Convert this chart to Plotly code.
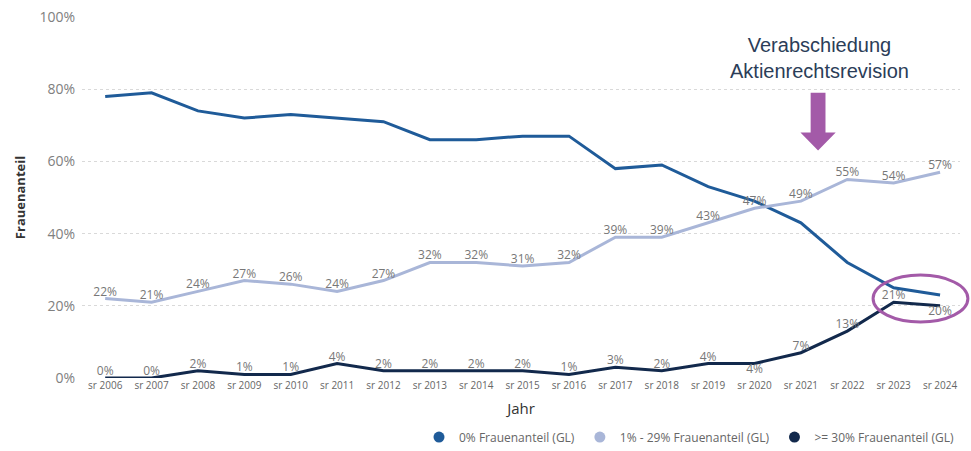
import plotly.graph_objects as go

years = list(range(2006, 2025))
year_labels = [f"sr {y}" for y in years]
s_zero = [78, 79, 74, 72, 73, 72, 71, 66, 66, 67, 67, 58, 59, 53, 49, 43, 32, 25, 23]
s_low = [22, 21, 24, 27, 26, 24, 27, 32, 32, 31, 32, 39, 39, 43, 47, 49, 55, 54, 57]
s_high = [0, 0, 2, 1, 1, 4, 2, 2, 2, 2, 1, 3, 2, 4, 4, 7, 13, 21, 20]
y_ticks = [0, 20, 40, 60, 80, 100]
names = ["0% Frauenanteil (GL)", "1% - 29% Frauenanteil (GL)", ">= 30% Frauenanteil (GL)"]
colors = ["#1f5b99", "#a9b6d8", "#12294c"]

high_pos = ["top center"] * len(years)
high_pos[years.index(2020)] = "bottom center"
high_pos[years.index(2024)] = "bottom center"

font = "Segoe UI, Open Sans, sans-serif"
fig = go.Figure()
fig.add_trace(go.Scatter(x=years, y=s_zero, mode="lines", line=dict(color=colors[0], width=3),
                         showlegend=False, hoverinfo="skip"))
fig.add_trace(go.Scatter(x=years, y=s_low, mode="lines+text", line=dict(color=colors[1], width=3),
                         text=[f"{v}%" for v in s_low], textposition="top center",
                         textfont=dict(size=12, color="#777", family=font), showlegend=False))
fig.add_trace(go.Scatter(x=years, y=s_high, mode="lines+text", line=dict(color=colors[2], width=3),
                         text=[f"{v}%" for v in s_high], textposition=high_pos,
                         textfont=dict(size=12, color="#777", family=font), showlegend=False))
for n, c in zip(names, colors):
    fig.add_trace(go.Scatter(x=[None], y=[None], mode="markers", name=n,
                             marker=dict(color=c, size=11, symbol="circle")))

# arrow shape (data units)
ax = 2021.37
fig.add_shape(type="path",
              path=f"M {ax-0.16},79 L {ax+0.16},79 L {ax+0.16},68 L {ax+0.38},68 L {ax},63 L {ax-0.38},68 L {ax-0.16},68 Z",
              fillcolor="#a35aa8", line=dict(width=0), xref="x", yref="y")
fig.add_shape(type="circle", xref="paper", yref="paper", x0=0.901, x1=1.009, y0=0.155, y1=0.285,
              line=dict(color="#a35aa8", width=3))
fig.add_annotation(text="Verabschiedung<br>Aktienrechtsrevision", xref="paper", yref="paper",
                   x=0.84, y=0.886, xanchor="center", yanchor="middle", showarrow=False,
                   font=dict(size=20, color="#2b3d58", family="Arial"))

fig.update_layout(
    width=971, height=451, margin=dict(l=82, r=11, t=17, b=73, autoexpand=False),
    plot_bgcolor="white", paper_bgcolor="white",
    font=dict(family=font),
    xaxis=dict(range=[2005.5, 2024.43], tickvals=years, ticktext=year_labels, showgrid=False,
               tickfont=dict(size=10, color="#666"), zeroline=False, showline=False,
               title=dict(text="Jahr", font=dict(size=15, color="#333"), standoff=12)),
    yaxis=dict(range=[0, 100], tickvals=y_ticks, ticktext=[f"{v}%" for v in y_ticks],
               gridcolor="#d9d9d9", griddash="dot", gridwidth=1, zeroline=False,
               tickfont=dict(size=14, color="#808080"), ticklabelstandoff=6,
               title=dict(text="<b>Frauenanteil</b>", font=dict(size=13, color="#333"), standoff=10)),
    legend=dict(orientation="h", x=1, xanchor="right", yref="container", y=0.031, yanchor="middle",
                font=dict(size=12, color="#666"), itemwidth=30, tracegroupgap=0),
)
fig.write_html("out.html")
